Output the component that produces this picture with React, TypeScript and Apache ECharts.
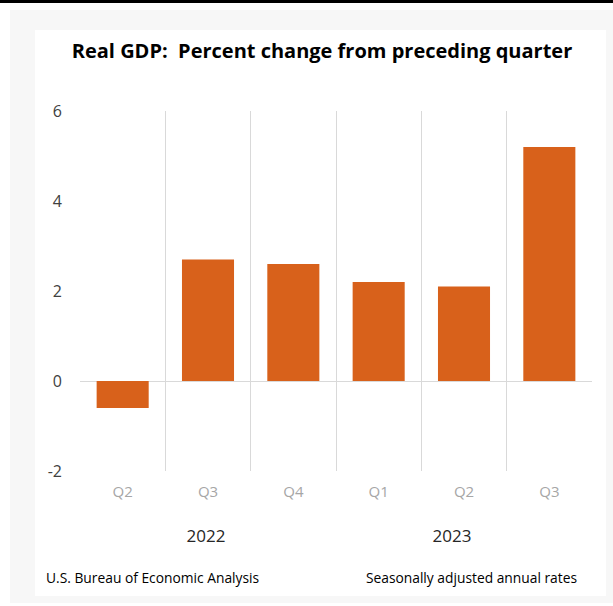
import React, { useEffect, useRef } from "react";
import * as echarts from "echarts";

const categories = ["Q2", "Q3", "Q4", "Q1", "Q2", "Q3"];
const gdpChange = [-0.6, 2.7, 2.6, 2.2, 2.1, 5.2];
const years = ["2022", "2023"];
const yTicks = { min: -2, max: 6, interval: 2 };
const titleText = "Real GDP:  Percent change from preceding quarter";
const sourceText = "U.S. Bureau of Economic Analysis";
const noteText = "Seasonally adjusted annual rates";

const FONT = "'Open Sans', 'Noto Sans', sans-serif";

export default function App() {
  const ref = useRef<HTMLDivElement>(null);

  useEffect(() => {
    document.body.style.margin = "0";
    if (!ref.current) return;
    const chart = echarts.init(ref.current, undefined, { renderer: "svg" });
    const splitColors = categories.map((_, i) => (i === 0 ? "rgba(0,0,0,0)" : "#d9d9d9"));
    splitColors.push("rgba(0,0,0,0)");
    chart.setOption({
      animation: false,
      backgroundColor: "#ffffff",
      textStyle: { fontFamily: FONT },
      graphic: [
        { type: "rect", z: -10, silent: true, shape: { x: 0, y: 0, width: 613, height: 3 }, style: { fill: "#000000" } },
        { type: "rect", z: -10, silent: true, shape: { x: 10, y: 10, width: 603, height: 593 }, style: { fill: "#f7f7f7" } },
        { type: "rect", z: -9, silent: true, shape: { x: 35, y: 30, width: 571, height: 566 }, style: { fill: "#ffffff" } },
        {
          type: "text",
          x: 322,
          y: 50,
          style: { text: titleText, font: `bold 20px ${FONT}`, fill: "#000000", align: "center", verticalAlign: "middle" },
        },
        {
          type: "text",
          x: 206,
          y: 535,
          style: { text: years[0], font: `17px ${FONT}`, fill: "#262626", align: "center", verticalAlign: "middle" },
        },
        {
          type: "text",
          x: 452,
          y: 535,
          style: { text: years[1], font: `17px ${FONT}`, fill: "#262626", align: "center", verticalAlign: "middle" },
        },
        {
          type: "text",
          x: 46,
          y: 577,
          style: { text: sourceText, font: `13.8px ${FONT}`, fill: "#000000", align: "left", verticalAlign: "middle" },
        },
        {
          type: "text",
          x: 577,
          y: 577,
          style: { text: noteText, font: `13.8px ${FONT}`, fill: "#000000", align: "right", verticalAlign: "middle" },
        },
      ],
      grid: { left: 80, right: 21, top: 111, bottom: 135, containLabel: false },
      xAxis: {
        type: "category",
        data: categories,
        boundaryGap: true,
        axisLine: { show: false, onZero: false },
        axisTick: { show: false },
        axisLabel: { color: "#a6a6a6", fontSize: 15, margin: 12, fontFamily: FONT },
        splitLine: { show: true, lineStyle: { color: splitColors, width: 1 } },
      },
      yAxis: {
        type: "value",
        min: yTicks.min,
        max: yTicks.max,
        interval: yTicks.interval,
        axisLine: { show: false },
        axisTick: { show: false },
        splitLine: { show: false },
        axisLabel: { color: "#404040", fontSize: 16, margin: 18, fontFamily: FONT },
      },
      series: [
        {
          type: "bar",
          data: gdpChange,
          barWidth: "61%",
          itemStyle: { color: "#d8611b" },
          markLine: {
            silent: true,
            symbol: "none",
            label: { show: false },
            lineStyle: { color: "#d9d9d9", type: "solid", width: 1 },
            data: [{ yAxis: 0 }],
            z: 1,
          },
        },
      ],
    });
    return () => chart.dispose();
  }, []);

  return <div ref={ref} style={{ width: 613, height: 606 }} />;
}
